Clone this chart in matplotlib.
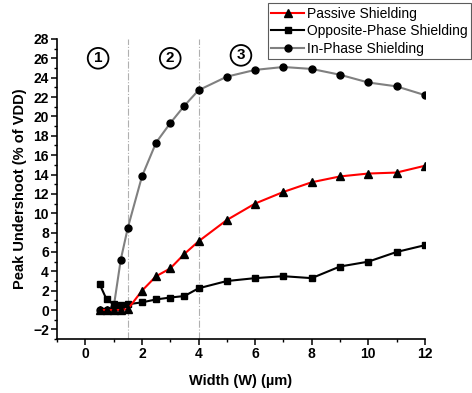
import matplotlib.pyplot as plt
from matplotlib.ticker import MultipleLocator

plt.rcParams['font.family'] = ['Liberation Sans', 'DejaVu Sans']

# widths (um)
width = [0.5, 0.75, 1.0, 1.25, 1.5, 2, 2.5, 3, 3.5, 4, 5, 6, 7, 8, 9, 10, 11, 12]

passive = [0.0, 0.0, 0.0, 0.0, 0.1, 2.0, 3.5, 4.3, 5.8, 7.1, 9.3, 11.0, 12.2, 13.2, 13.8, 14.1, 14.2, 14.9]
opposite = [2.7, 1.1, 0.6, 0.5, 0.6, 0.8, 1.1, 1.3, 1.45, 2.25, 3.0, 3.3, 3.5, 3.3, 4.5, 5.0, 6.0, 6.7]
in_phase = [0.0, 0.0, 0.3, 5.2, 8.5, 13.8, 17.3, 19.3, 21.1, 22.7, 24.1, 24.8, 25.1, 24.9, 24.3, 23.5, 23.1, 22.2]

region_bounds = [1.5, 4]
region_labels = ['1', '2', '3']
region_pos = [(0.45, 26.0), (3.0, 26.0), (5.5, 26.3)]

fig = plt.figure(figsize=(4.72, 3.93), dpi=100)
ax = fig.add_axes([0.121, 0.137, 0.779, 0.764])

# region separators
for xb in region_bounds:
    ax.axvline(xb, color='#b0b0b0', lw=0.8, ls='-.', zorder=1)

ax.plot(width, in_phase, color='#808080', lw=1.5, marker='o', ms=5,
        mfc='black', mec='black', label='In-Phase Shielding', zorder=2)
ax.plot(width, passive, color='red', lw=1.5, marker='^', ms=6,
        mfc='black', mec='black', label='Passive Shielding', zorder=4)
ax.plot(width, opposite, color='black', lw=1.5, marker='s', ms=5,
        mfc='black', mec='black', label='Opposite-Phase Shielding', zorder=3)

for lab, (xp, yp) in zip(region_labels, region_pos):
    ax.text(xp, yp, lab, ha='center', va='center', fontsize=11, fontweight='bold',
            bbox=dict(boxstyle='circle,pad=0.22', fc='white', ec='black', lw=1.3))

ax.set_xlim(-1, 12)
ax.set_ylim(-3, 28)
ax.xaxis.set_minor_locator(MultipleLocator(1))
ax.yaxis.set_minor_locator(MultipleLocator(1))
ax.set_xticks(range(0, 13, 2))
ax.set_yticks(range(-2, 29, 2))

for s in ['top', 'right']:
    ax.spines[s].set_visible(False)
for s in ['left', 'bottom']:
    ax.spines[s].set_linewidth(1.2)
ax.tick_params(which='major', direction='out', length=4, width=1.1, labelsize=10, pad=2)
ax.tick_params(which='minor', direction='out', length=2.5, width=1.0)
for t in ax.get_xticklabels() + ax.get_yticklabels():
    t.set_fontweight('bold')

ax.set_xlabel('Width (W) (\u00b5m)', fontsize=10.5, fontweight='bold', labelpad=9)
ax.set_ylabel('Peak Undershoot (% of VDD)', fontsize=10.5, fontweight='bold', labelpad=4)

handles, labels = ax.get_legend_handles_labels()
order = [1, 2, 0]
leg = ax.legend([handles[i] for i in order], [labels[i] for i in order],
                loc='upper right', bbox_to_anchor=(1.0, 0.995),
                bbox_transform=fig.transFigure, fontsize=10,
                frameon=True, fancybox=False, edgecolor='#333333',
                borderpad=0.25, labelspacing=0.25, handlelength=2.4,
                handletextpad=0.15, borderaxespad=0.1)
leg.get_frame().set_linewidth(0.8)

fig.savefig('out.png', dpi=100)
